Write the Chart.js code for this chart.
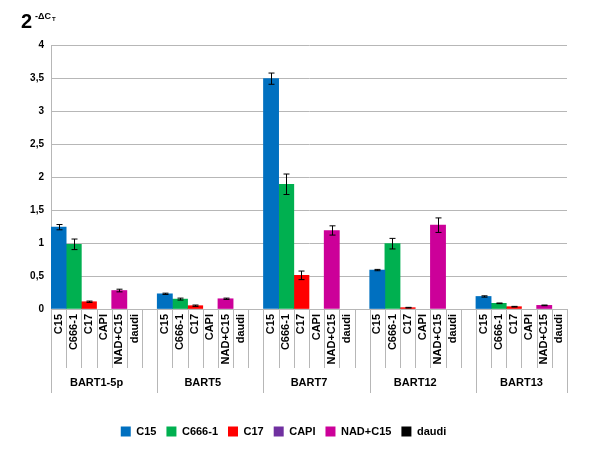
<!DOCTYPE html>
<html>
<head>
<meta charset="utf-8">
<script src="https://cdn.jsdelivr.net/npm/chart.js@4.4.0/dist/chart.umd.min.js"></script>
<style>
  body { margin: 0; background: #fff; }
</style>
</head>
<body>
<canvas id="myChart" width="600" height="450"></canvas>
<script>
// 2^-dCt per miRNA, one bar per cell line
var groups = ['BART1-5p', 'BART5', 'BART7', 'BART12', 'BART13'];
var cells = ['C15', 'C666-1', 'C17', 'CAPI', 'NAD+C15', 'daudi'];
var colors = ['#0070C0', '#00B050', '#FF0000', '#7030A0', '#CC0099', '#000000'];

var c15 = [1.24, 0.23, 3.49, 0.59, 0.19];
var c666 = [0.98, 0.15, 1.89, 0.99, 0.086];
var c17 = [0.11, 0.05, 0.51, 0.02, 0.035];
var capi = [0, 0, 0, 0, 0];
var nad = [0.28, 0.155, 1.19, 1.27, 0.055];
var daudi = [0, 0, 0, 0, 0];

var c15Err = [0.04, 0.01, 0.085, 0.01, 0.01];
var c666Err = [0.08, 0.015, 0.155, 0.08, 0.005];
var c17Err = [0.01, 0.01, 0.065, 0.005, 0.005];
var capiErr = [0, 0, 0, 0, 0];
var nadErr = [0.02, 0.01, 0.07, 0.11, 0.005];
var daudiErr = [0, 0, 0, 0, 0];

var yTicks = [0, 0.5, 1, 1.5, 2, 2.5, 3, 3.5, 4];

var values = [c15, c666, c17, capi, nad, daudi];
var errors = [c15Err, c666Err, c17Err, capiErr, nadErr, daudiErr];

// 7 slots per group (6 cells + one empty spacer), last group has no spacer
var slots = 7;
var labels = [];
groups.forEach(function (g, gi) {
    cells.forEach(function (c) { labels.push(c); });
    if (gi < groups.length - 1) labels.push('');
});

var datasets = cells.map(function (c, si) {
    var d = labels.map(function () { return null; });
    groups.forEach(function (g, gi) {
        var v = values[si][gi];
        d[gi * slots + si] = v > 0 ? v : null; // zero bars are not drawn
    });
    return {
        label: c,
        data: d,
        backgroundColor: colors[si],
        borderWidth: 0,
        barPercentage: 1,
        categoryPercentage: 1
    };
});

var font = 'Liberation Sans, Arial, sans-serif';

var extras = {
    id: 'extras',
    afterDatasetsDraw: function (chart) {
        var ctx = chart.ctx;
        var x = chart.scales.x, y = chart.scales.y;
        ctx.save();
        // error bars
        ctx.strokeStyle = '#000';
        ctx.lineWidth = 1;
        cells.forEach(function (c, si) {
            groups.forEach(function (g, gi) {
                var e = errors[si][gi];
                if (!e) return;
                var v = values[si][gi];
                var px = Math.round(x.getPixelForValue(gi * slots + si)) + 0.5;
                var y1 = y.getPixelForValue(v + e), y2 = y.getPixelForValue(v - e);
                ctx.beginPath();
                ctx.moveTo(px, y1); ctx.lineTo(px, y2);
                ctx.moveTo(px - 3, y1); ctx.lineTo(px + 3, y1);
                ctx.moveTo(px - 3, y2); ctx.lineTo(px + 3, y2);
                ctx.stroke();
            });
        });
        ctx.restore();
    },
    afterDraw: function (chart) {
        var ctx = chart.ctx;
        var x = chart.scales.x;
        var area = chart.chartArea;
        var w = (area.right - area.left) / labels.length;
        ctx.save();
        // separator lines of the two-level category axis
        ctx.strokeStyle = '#b7b7b7';
        ctx.lineWidth = 1;
        for (var i = 0; i <= labels.length; i++) {
            var px = Math.round(area.left + i * w) + 0.5;
            var long = (i % slots === 0) || i === labels.length;
            ctx.beginPath();
            ctx.moveTo(px, area.bottom);
            ctx.lineTo(px, long ? area.bottom + 84 : area.bottom + 59);
            ctx.stroke();
        }
        // group labels
        ctx.fillStyle = '#000';
        ctx.font = 'bold 11px ' + font;
        ctx.textAlign = 'center';
        ctx.textBaseline = 'middle';
        groups.forEach(function (g, gi) {
            var a = x.getPixelForValue(gi * slots);
            var b = x.getPixelForValue(gi * slots + cells.length - 1);
            ctx.fillText(g, (a + b) / 2, area.bottom + 74);
        });
        // y title 2^-dCt
        ctx.textAlign = 'left';
        ctx.textBaseline = 'alphabetic';
        ctx.font = 'bold 20px ' + font;
        ctx.fillText('2', 21, 28);
        ctx.font = 'bold 9px ' + font;
        ctx.fillText('-\u0394C', 35, 19);
        ctx.font = 'bold 6px ' + font;
        ctx.fillText('T', 52, 21);
        ctx.restore();
    }
};

var ctx1 = document.getElementById('myChart').getContext('2d');
var myChart = new Chart(ctx1, {
    type: 'bar',
    data: {
        labels: labels,
        datasets: datasets
    },
    options: {
        responsive: false,
        animation: false,
        layout: { padding: { top: 45, left: 0, right: 33, bottom: 3 } },
        plugins: {
            legend: {
                position: 'bottom',
                labels: {
                    boxWidth: 10,
                    boxHeight: 10,
                    padding: 10,
                    color: '#000',
                    font: { family: font, size: 11, weight: 'bold' }
                }
            },
            tooltip: { enabled: false }
        },
        scales: {
            x: {
                stacked: true,
                grid: { display: false, drawTicks: false },
                border: { display: false },
                ticks: {
                    autoSkip: false,
                    minRotation: 90,
                    maxRotation: 90,
                    padding: 5,
                    color: '#000',
                    font: { family: font, size: 11, weight: 'bold' }
                },
                afterFit: function (scale) { scale.height = 107; }
            },
            y: {
                stacked: true,
                min: 0,
                max: 4,
                afterBuildTicks: function (scale) {
                    scale.ticks = yTicks.map(function (v) { return { value: v }; });
                },
                grid: { color: '#b7b7b7', drawTicks: false },
                border: { color: '#b7b7b7' },
                ticks: {
                    padding: 7,
                    color: '#000',
                    font: { family: font, size: 10, weight: 'bold' },
                    callback: function (v) { return String(v).replace('.', ','); }
                },
                afterFit: function (scale) { scale.width = 51; }
            }
        }
    },
    plugins: [extras]
});
</script>
</body>
</html>
